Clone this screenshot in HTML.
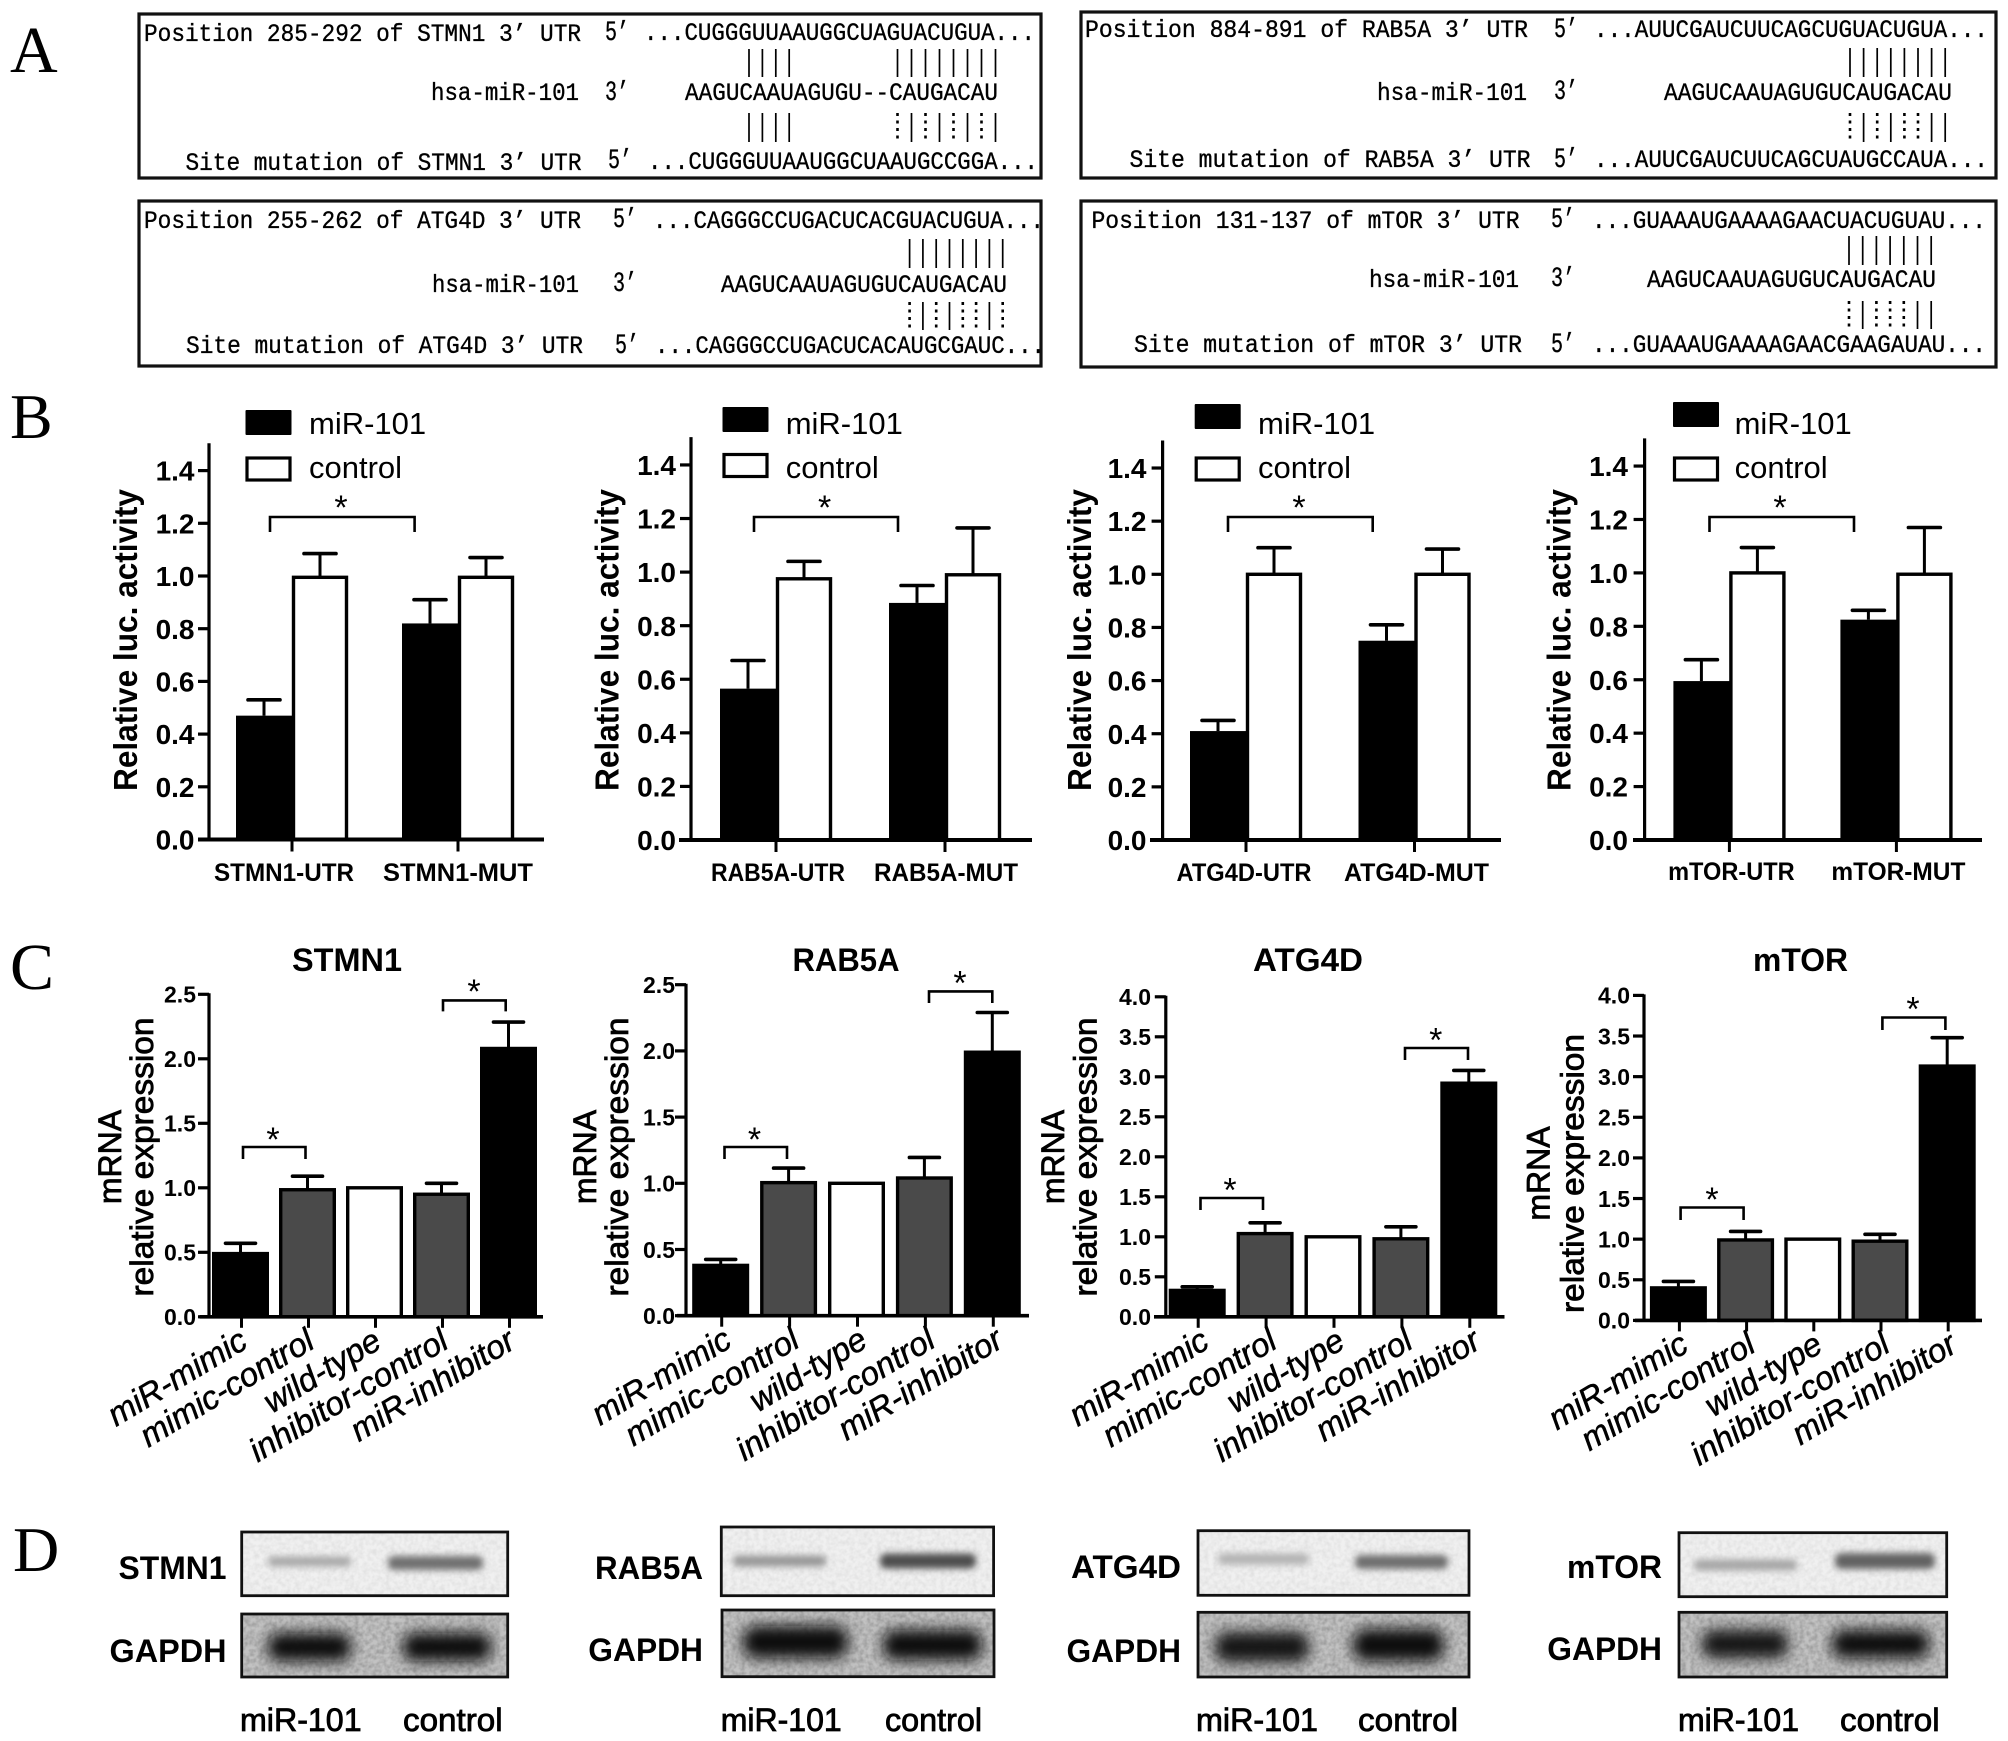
<!DOCTYPE html>
<html lang="en">
<head>
<meta charset="utf-8">
<title>miR-101 target validation figure</title>
<style>
html,body{margin:0;padding:0;background:#fff;}
svg{display:block;}
</style>
</head>
<body>
<svg id="figure" width="2008" height="1741" viewBox="0 0 2008 1741">
<defs>
<filter id="blur-light" x="-30%" y="-150%" width="160%" height="400%"><feGaussianBlur stdDeviation="3.5"/></filter>
<filter id="blur-heavy" x="-30%" y="-80%" width="160%" height="260%"><feGaussianBlur stdDeviation="7"/></filter>
<filter id="noise" x="0" y="0" width="100%" height="100%"><feTurbulence type="fractalNoise" baseFrequency="0.22" numOctaves="2" seed="4"/><feColorMatrix type="matrix" values="0 0 0 0 0  0 0 0 0 0  0 0 0 0 0  1.4 0 0 0 -0.45"/></filter>
</defs>
<rect x="0" y="0" width="2008" height="1741" fill="#ffffff"/>
<text x="10" y="72" font-family="'Liberation Serif',serif" font-size="66">A</text>
<text x="10" y="438" font-family="'Liberation Serif',serif" font-size="64">B</text>
<text x="10" y="989" font-family="'Liberation Serif',serif" font-size="66">C</text>
<text x="13" y="1571" font-family="'Liberation Serif',serif" font-size="64">D</text>
</svg>
<script>
/* ---------- Panel B data: relative luciferase activity ---------- */
const lucTicks = [0, 0.2, 0.4, 0.6, 0.8, 1.0, 1.2, 1.4];
const lucTickLabels = ['0.0', '0.2', '0.4', '0.6', '0.8', '1.0', '1.2', '1.4'];
const lucLegend = ['miR-101', 'control'];

const stmn1LucLabels = ['STMN1-UTR', 'STMN1-MUT'];
const stmn1LucMir = [0.47, 0.82];
const stmn1LucMirErr = [0.06, 0.09];
const stmn1LucCtl = [0.995, 0.995];
const stmn1LucCtlErr = [0.09, 0.075];

const rab5aLucLabels = ['RAB5A-UTR', 'RAB5A-MUT'];
const rab5aLucMir = [0.565, 0.885];
const rab5aLucMirErr = [0.105, 0.065];
const rab5aLucCtl = [0.975, 0.99];
const rab5aLucCtlErr = [0.065, 0.175];

const atg4dLucLabels = ['ATG4D-UTR', 'ATG4D-MUT'];
const atg4dLucMir = [0.41, 0.75];
const atg4dLucMirErr = [0.04, 0.06];
const atg4dLucCtl = [1.0, 1.0];
const atg4dLucCtlErr = [0.10, 0.095];

const mtorLucLabels = ['mTOR-UTR', 'mTOR-MUT'];
const mtorLucMir = [0.595, 0.825];
const mtorLucMirErr = [0.08, 0.035];
const mtorLucCtl = [1.0, 0.995];
const mtorLucCtlErr = [0.095, 0.175];

/* ---------- Panel C data: mRNA relative expression ---------- */
const exprCategories = ['miR-mimic', 'mimic-control', 'wild-type', 'inhibitor-control', 'miR-inhibitor'];
const exprTicksShort = [0, 0.5, 1.0, 1.5, 2.0, 2.5];
const exprTickLabelsShort = ['0.0', '0.5', '1.0', '1.5', '2.0', '2.5'];
const exprTicksTall = [0, 0.5, 1.0, 1.5, 2.0, 2.5, 3.0, 3.5, 4.0];
const exprTickLabelsTall = ['0.0', '0.5', '1.0', '1.5', '2.0', '2.5', '3.0', '3.5', '4.0'];

const stmn1Expr = [0.49, 0.985, 1.0, 0.95, 2.08];
const stmn1ExprErr = [0.08, 0.105, 0, 0.085, 0.205];
const rab5aExpr = [0.38, 1.005, 1.0, 1.04, 1.99];
const rab5aExprErr = [0.045, 0.11, 0, 0.155, 0.30];
const atg4dExpr = [0.33, 1.04, 1.0, 0.975, 2.92];
const atg4dExprErr = [0.045, 0.135, 0, 0.15, 0.16];
const mtorExpr = [0.40, 0.99, 1.0, 0.975, 3.13];
const mtorExprErr = [0.08, 0.105, 0, 0.085, 0.35];

/* ---------- helpers ---------- */
const fig = document.getElementById('figure');
const NS = fig.namespaceURI;
const SANS = "'Liberation Sans',Arial,sans-serif";
const MONO = "'Liberation Mono',monospace";

function mk(tag, attrs, parent, content) {
  const e = document.createElementNS(NS, tag);
  for (const k in attrs) e.setAttribute(k, attrs[k]);
  if (content !== undefined) e.textContent = content;
  parent.appendChild(e);
  return e;
}
function slug(s) {
  return String(s).toLowerCase().replace(/[^a-z0-9]+/g, '-').replace(/^-|-$/g, '');
}

/* ---------- Panel A: sequence alignments ---------- */
const alignBoxes = [
 {name:'stmn1', box:[139,14,902,164], texts:[
   ["Position 285-292 of STMN1 3’ UTR",144,41,437],["5’",605,40,24],["...CUGGGUUAAUGGCUAGUACUGUA...",644,40,391],
   ["hsa-miR-101",431,100,148],["3’",605,100,24],["AAGUCAAUAGUGU--CAUGACAU",685,100,313],
   ["Site mutation of STMN1 3’ UTR",185.5,170,396],["5’",608,168,24],["...CUGGGUUAAUGGCUAAUGCCGGA...",648,169,390]],
  pairs:[[749,13.4,49,77,'||||'],[897.5,14,49,77,'||||||||'],[749,13.4,113,142,'||||'],[897.5,14,113,142,':|:|:|:|']]},
 {name:'atg4d', box:[139,201,902,165], texts:[
   ["Position 255-262 of ATG4D 3’ UTR",144,228,437],["5’",613,227,24],["...CAGGGCCUGACUCACGUACUGUA...",653,228,391],
   ["hsa-miR-101",432,292,147],["3’",613,291,24],["AAGUCAAUAGUGUCAUGACAU",721,292,286],
   ["Site mutation of ATG4D 3’ UTR",186,353,397],["5’",615,353,24],["...CAGGGCCUGACUCACAUGCGAUC...",655,353,390]],
  pairs:[[909.6,13.3,239,268,'||||||||'],[909.6,13.3,302,330,':|:|::|:']]},
 {name:'rab5a', box:[1081,12,915,166], texts:[
   ["Position 884-891 of RAB5A 3’ UTR",1085,37,443],["5’",1554,37,24],["...AUUCGAUCUUCAGCUGUACUGUA...",1594,37,394],
   ["hsa-miR-101",1377,100,150],["3’",1554,99,24],["AAGUCAAUAGUGUCAUGACAU",1664,100,288],
   ["Site mutation of RAB5A 3’ UTR",1129.5,167,401],["5’",1554,167,24],["...AUUCGAUCUUCAGCUAUGCCAUA...",1594,167,394]],
  pairs:[[1850,13.6,48,77,'||||||||'],[1850,13.6,113,142,':|:|::||']]},
 {name:'mtor', box:[1081,201,915,166], texts:[
   ["Position 131-137 of mTOR 3’ UTR",1091.5,228,428],["5’",1551,227,24],["...GUAAAUGAAAAGAACUACUGUAU...",1592,228,394],
   ["hsa-miR-101",1369,287,150],["3’",1551,286,24],["AAGUCAAUAGUGUCAUGACAU",1647,287,289],
   ["Site mutation of mTOR 3’ UTR",1134,352,388],["5’",1551,352,24],["...GUAAAUGAAAAGAACGAAGAUAU...",1592,352,394]],
  pairs:[[1849,13.7,236,265,'|||||||'],[1849,13.7,301,329,':|:::||']]}
];
alignBoxes.forEach(function(a){
  const g = mk('g', {}, fig);
  
  
  a.texts.forEach(function(t){
    const fs = t[0].length === 2 ? 28 : 25;
    const el = mk('text', {x:t[1], y:t[2], 'font-family':MONO, 'font-size':fs, textLength:t[3], lengthAdjust:'spacingAndGlyphs', fill:'#000', stroke:'#000', 'stroke-width':0.35}, g, t[0]);
    
    
  });
  a.pairs.forEach(function(p){
    for (let i = 0; i < p[4].length; i++) {
      const dotted = p[4][i] === ':';
      const attrs = {x1:p[0]+i*p[1], x2:p[0]+i*p[1], y1:p[2], y2:p[3], stroke:'#000', 'stroke-width':dotted?2.6:1.7};
      if (dotted) attrs['stroke-dasharray'] = '3 4.5';
      const ln = mk('line', attrs, g);
      
      
    }
  });
  const r = mk('rect', {x:a.box[0], y:a.box[1], width:a.box[2], height:a.box[3], fill:'none', stroke:'#111', 'stroke-width':3.2}, g);
  
  
});

/* ---------- shared chart pieces ---------- */
function drawBracket(g, x1, x2, top, bottom, sx, sy) {
  const p = mk('path', {d:'M'+x1+' '+bottom+'V'+top+'H'+x2+'V'+bottom, fill:'none', stroke:'#000', 'stroke-width':2.6}, g);
  
  
  const s = mk('text', {x:sx, y:sy+20, 'text-anchor':'middle', 'font-family':SANS, 'font-size':34, fill:'#000'}, g, '*');
  
  
}
function drawErr(g, cx, yBase, yTop, capW) {
  const st = mk('line', {x1:cx, x2:cx, y1:yBase, y2:yTop, stroke:'#000', 'stroke-width':3}, g);
  
  
  const cp = mk('line', {x1:cx-capW/2, x2:cx+capW/2, y1:yTop, y2:yTop, stroke:'#000', 'stroke-width':3.6, 'stroke-linecap':'round'}, g);
  
  
}
function drawYAxis(g, c, ticks, labels, topValue, fs, y) {
  const ax = mk('line', {x1:c.axisX, x2:c.axisX, y1:y(topValue)-1, y2:c.zeroY, stroke:'#000', 'stroke-width':3.2}, g);
  
  
  ticks.forEach(function(v, i){
    const t = mk('line', {x1:c.axisX-11, x2:c.axisX, y1:y(v), y2:y(v), stroke:'#000', 'stroke-width':3.2}, g);
    
    
    const l = mk('text', {x:c.labelRight, y:y(v)+fs*0.36, 'text-anchor':'end', 'font-family':SANS, 'font-weight':'bold', 'font-size':fs, fill:'#000'}, g, labels[i]);
    
    
  });
}

/* ---------- Panel B charts ---------- */
function drawLuc(name, c, labels, mir, mirErr, ctl, ctlErr) {
  const g = mk('g', {}, fig);
  
  
  const y = function(v){ return c.zeroY - v * c.unit; };
  const x = function(i){ return c.tick0 + i * c.step; };
  const barW = 56;
  labels.forEach(function(lab, i){
    const gx = x(i);
    const bb = mk('rect', {x:gx-barW, y:y(mir[i]), width:barW+1.5, height:c.zeroY-y(mir[i]), fill:'#000'}, g);
    
    
    drawErr(g, gx-barW/2, y(mir[i]), y(mir[i]+mirErr[i]), 32);
    drawErr(g, gx+barW/2, y(ctl[i]), y(ctl[i]+ctlErr[i]), 32);
    const wb = mk('rect', {x:gx+1.5, y:y(ctl[i]), width:barW-3, height:c.zeroY-y(ctl[i]), fill:'#fff', stroke:'#000', 'stroke-width':3.4}, g);
    
    
    const t = mk('line', {x1:gx, x2:gx, y1:c.zeroY, y2:c.zeroY+12, stroke:'#000', 'stroke-width':3}, g);
    
    
    const l = mk('text', {x:gx+c.labelDx[i], y:c.labelY, 'text-anchor':'middle', 'font-family':SANS, 'font-weight':'bold', 'font-size':25, textLength:c.labelLen[i], lengthAdjust:'spacingAndGlyphs', fill:'#000'}, g, lab);
    
    
  });
  const xa = mk('line', {x1:c.xL, x2:c.xR, y1:c.zeroY, y2:c.zeroY, stroke:'#000', 'stroke-width':4}, g);
  
  
  drawYAxis(g, c, lucTicks, lucTickLabels, 1.5, 28, y);
  const ttl = mk('text', {transform:'translate('+c.titleX+' 640) rotate(-90)', 'text-anchor':'middle', 'font-family':SANS, 'font-weight':'bold', 'font-size':33, textLength:302, lengthAdjust:'spacingAndGlyphs', fill:'#000'}, g, 'Relative luc. activity');
  
  
  const s1 = mk('rect', {x:c.legendX, y:c.legendY1, width:46, height:25, fill:'#000', rx:1}, g);
  
  
  const l1 = mk('text', {x:c.legendTextX, y:434, 'font-family':SANS, 'font-size':31, fill:'#000'}, g, lucLegend[0]);
  
  
  const s2 = mk('rect', {x:c.legendX+1.5, y:c.legendY2+1.5, width:43, height:22, fill:'#fff', stroke:'#000', 'stroke-width':3.2}, g);
  
  
  const l2 = mk('text', {x:c.legendTextX, y:478, 'font-family':SANS, 'font-size':31, fill:'#000'}, g, lucLegend[1]);
  
  
  drawBracket(g, c.br[0], c.br[1], 517, 532, c.br[2], 499);
}
drawLuc('stmn1', {axisX:209, zeroY:839.5, unit:263.5, tick0:292, step:166, xL:198, xR:544, labelRight:194.5, titleX:137, labelY:881, labelDx:[-8,0], labelLen:[140,150], legendX:245.5, legendY1:410, legendY2:456.5, legendTextX:309, br:[270,414.6,341]}, stmn1LucLabels, stmn1LucMir, stmn1LucMirErr, stmn1LucCtl, stmn1LucCtlErr);
drawLuc('rab5a', {axisX:691, zeroY:840, unit:267.9, tick0:776, step:169, xL:679, xR:1032, labelRight:676, titleX:618.5, labelY:881, labelDx:[2,1], labelLen:[134,144], legendX:722.5, legendY1:407, legendY2:453, legendTextX:785.7, br:[754,898,824.6]}, rab5aLucLabels, rab5aLucMir, rab5aLucMirErr, rab5aLucCtl, rab5aLucCtlErr);
drawLuc('atg4d', {axisX:1162.6, zeroY:840, unit:265.7, tick0:1246, step:168.5, xL:1150, xR:1501, labelRight:1146.5, titleX:1091, labelY:881, labelDx:[-2,2], labelLen:[135,145], legendX:1194.7, legendY1:404, legendY2:456.5, legendTextX:1258, br:[1228,1372.7,1299]}, atg4dLucLabels, atg4dLucMir, atg4dLucMirErr, atg4dLucCtl, atg4dLucCtlErr);
drawLuc('mtor', {axisX:1644.6, zeroY:840, unit:267.1, tick0:1729.4, step:167, xL:1633, xR:1982, labelRight:1628, titleX:1570.7, labelY:880, labelDx:[2,2], labelLen:[126.6,134], legendX:1673, legendY1:402, legendY2:456.5, legendTextX:1734.6, br:[1709.5,1854,1780]}, mtorLucLabels, mtorLucMir, mtorLucMirErr, mtorLucCtl, mtorLucCtlErr);

/* ---------- Panel C charts ---------- */
const exprFills = ['#000000', '#4a4a4a', '#ffffff', '#4a4a4a', '#000000'];
function drawExpr(name, title, c, ticks, tickLabels, topValue, vals, errs) {
  const g = mk('g', {}, fig);
  
  
  const y = function(v){ return c.zeroY - v * c.unit; };
  const x = function(i){ return c.tick0 + i * c.step; };
  const barW = 57;
  exprCategories.forEach(function(cat, i){
    const cx = x(i);
    if (errs[i] > 0) drawErr(g, cx, y(vals[i]), y(vals[i]+errs[i]), 30);
    const b = mk('rect', {x:cx-barW/2+1.7, y:y(vals[i]), width:barW-3.4, height:c.zeroY-y(vals[i]), fill:exprFills[i], stroke:'#000', 'stroke-width':3.4}, g);
    
    
    const t = mk('line', {x1:cx+1, x2:cx+1, y1:c.zeroY, y2:c.zeroY+11, stroke:'#000', 'stroke-width':3}, g);
    
    
    const ax = cx + c.catDx, ay = c.zeroY + 30;
    const l = mk('text', {transform:'translate('+ax+' '+ay+') rotate(-31)', 'text-anchor':'end', 'font-family':SANS, 'font-style':'italic', 'font-size':33, fill:'#000', stroke:'#000', 'stroke-width':0.5}, g, cat);
    
    
  });
  const xa = mk('line', {x1:c.xL, x2:c.xR, y1:c.zeroY, y2:c.zeroY, stroke:'#000', 'stroke-width':3.6}, g);
  
  
  drawYAxis(g, c, ticks, tickLabels, topValue, 23, y);
  const ttl = mk('text', {x:c.titleX, y:971, 'text-anchor':'middle', 'font-family':SANS, 'font-weight':'bold', 'font-size':32, textLength:c.titleLen, lengthAdjust:'spacingAndGlyphs', fill:'#000'}, g, title);
  
  
  const t1 = mk('text', {transform:'translate('+c.mrnaX+' '+c.yTitleY+') rotate(-90)', 'text-anchor':'middle', 'font-family':SANS, 'font-size':32, fill:'#000', stroke:'#000', 'stroke-width':0.8}, g, 'mRNA');
  
  
  const t2 = mk('text', {transform:'translate('+c.relX+' '+c.yTitleY+') rotate(-90)', 'text-anchor':'middle', 'font-family':SANS, 'font-size':32, textLength:279, lengthAdjust:'spacingAndGlyphs', fill:'#000', stroke:'#000', 'stroke-width':0.8}, g, 'relative expression');
  
  
  drawBracket(g, c.br1[0], c.br1[1], c.br1[2], c.br1[3], c.br1[4], c.br1[5]);
  drawBracket(g, c.br2[0], c.br2[1], c.br2[2], c.br2[3], c.br2[4], c.br2[5]);
}
drawExpr('stmn1', 'STMN1', {axisX:209, zeroY:1316.8, unit:129, tick0:240.5, step:67, xL:199.6, xR:543, labelRight:196, catDx:9, titleX:347, titleLen:110, mrnaX:121, relX:153, yTitleY:1157, br1:[243,305.5,1147,1159,273,1131], br2:[443,505.7,1000.4,1011.4,474,983]}, exprTicksShort, exprTickLabelsShort, 2.5, stmn1Expr, stmn1ExprErr);
drawExpr('rab5a', 'RAB5A', {axisX:686, zeroY:1315.7, unit:132.4, tick0:720.7, step:67.9, xL:677, xR:1029, labelRight:675, catDx:13, titleX:846, titleLen:107, mrnaX:596, relX:628, yTitleY:1157, br1:[724.5,787,1147,1159,754.5,1131], br2:[929,992.3,991.4,1003,960,974.5]}, exprTicksShort, exprTickLabelsShort, 2.5, rab5aExpr, rab5aExprErr);
drawExpr('atg4d', 'ATG4D', {axisX:1165.8, zeroY:1316.8, unit:80, tick0:1197.2, step:67.9, xL:1154, xR:1504.5, labelRight:1151, catDx:14, titleX:1308, titleLen:110, mrnaX:1064, relX:1096.4, yTitleY:1157, br1:[1200.5,1263,1198,1210,1230,1181.5], br2:[1405,1468,1048,1060,1435.7,1031.5]}, exprTicksTall, exprTickLabelsTall, 4.0, atg4dExpr, atg4dExprErr);
drawExpr('mtor', 'mTOR', {axisX:1644, zeroY:1320.4, unit:81.25, tick0:1678.4, step:67.2, xL:1635, xR:1982, labelRight:1630, catDx:12, titleX:1800.5, titleLen:95, mrnaX:1549.5, relX:1583.5, yTitleY:1173.5, br1:[1680.6,1743.6,1207.5,1220,1712,1191], br2:[1882.4,1945.4,1017.5,1030,1913,1000.5]}, exprTicksTall, exprTickLabelsTall, 4.0, mtorExpr, mtorExprErr);

/* ---------- Panel D: western blots ---------- */
const blots = [
 {name:'stmn1', label:'STMN1', lx:226.5, ll:108, ly:1567, gy:1650, gl:117, top:[241.7,1532,266,63.7], gap:[241.7,1614,266,63],
  bands:[[265,89,1561.5,10,'#a8a8a8'],[385,101,1563,14,'#707070']], gbands:[[265,89,1647,28,'#0a0a0a'],[400,94,1647,28,'#0a0a0a']],
  foot:[[240,121.6],[403,99.6]]},
 {name:'rab5a', label:'RAB5A', lx:703, ll:108, ly:1567, gy:1649, gl:114.7, top:[721.3,1527,272.3,68.7], gap:[722,1610,272,66.7],
  bands:[[730,99,1561,11,'#969696'],[877,102,1561,15,'#4e4e4e']], gbands:[[740,111,1642,32,'#0a0a0a'],[880,105,1645,30,'#0e0e0e']],
  foot:[[720.7,121],[885,97]]},
 {name:'atg4d', label:'ATG4D', lx:1181, ll:110, ly:1566, gy:1650, gl:114.5, top:[1198,1530.7,271,64.6], gap:[1198,1612.3,271,64.7],
  bands:[[1215,97,1559,11,'#b2b2b2'],[1352,99,1562,14,'#6e6e6e']], gbands:[[1212,100,1647,30,'#141414'],[1350,97,1645,32,'#0a0a0a']],
  foot:[[1196,122],[1358,100]]},
 {name:'mtor', label:'mTOR', lx:1662, ll:95, ly:1566, gy:1648, gl:114.7, top:[1679,1532.7,267.7,64], gap:[1679,1612.3,267.7,64.7],
  bands:[[1691,109,1565,11,'#a6a6a6'],[1832,106,1561,16,'#626262']], gbands:[[1699,92,1644,28,'#141414'],[1829,103,1644,28,'#0a0a0a']],
  foot:[[1678,121],[1840,99.6]]}
];
const footLabels = ['miR-101', 'control'];
function drawBlot(g, rectSpec, bg, bands, filterId, noiseOpacity, name) {
  const cl = mk('g', {}, g);
  
  
  const r = mk('rect', {x:rectSpec[0], y:rectSpec[1], width:rectSpec[2], height:rectSpec[3], fill:bg}, cl);
  
  
  const n = mk('rect', {x:rectSpec[0], y:rectSpec[1], width:rectSpec[2], height:rectSpec[3], filter:'url(#noise)', opacity:noiseOpacity}, cl);
  
  
  bands.forEach(function(b){
    const e = mk('rect', {x:b[0]+3, y:b[2]-b[3]/2, width:b[1]-6, height:b[3], rx:b[3]/2.5, fill:b[4], filter:'url(#'+filterId+')'}, cl);
    
    
  });
  const o = mk('rect', {x:rectSpec[0], y:rectSpec[1], width:rectSpec[2], height:rectSpec[3], fill:'none', stroke:'#111', 'stroke-width':2.8}, cl);
  
  
}
blots.forEach(function(b){
  const g = mk('g', {}, fig);
  
  
  drawBlot(g, b.top, '#f0f0f0', b.bands, 'blur-light', 0.08, 'target-blot');
  drawBlot(g, b.gap, '#c2c2c2', b.gbands, 'blur-heavy', 0.25, 'gapdh-blot');
  const t1 = mk('text', {x:b.lx, y:b.ly+12, 'text-anchor':'end', 'font-family':SANS, 'font-weight':'bold', 'font-size':32, textLength:b.ll, lengthAdjust:'spacingAndGlyphs', fill:'#000'}, g, b.label);
  
  
  const t2 = mk('text', {x:b.lx, y:b.gy+12, 'text-anchor':'end', 'font-family':SANS, 'font-weight':'bold', 'font-size':32, textLength:b.gl, lengthAdjust:'spacingAndGlyphs', fill:'#000'}, g, 'GAPDH');
  
  
  b.foot.forEach(function(f, i){
    const t3 = mk('text', {x:f[0], y:1731, 'font-family':SANS, 'font-size':32, textLength:f[1], lengthAdjust:'spacingAndGlyphs', fill:'#000', stroke:'#000', 'stroke-width':0.8}, g, footLabels[i]);
    
    
  });
});
</script>
</body>
</html>
